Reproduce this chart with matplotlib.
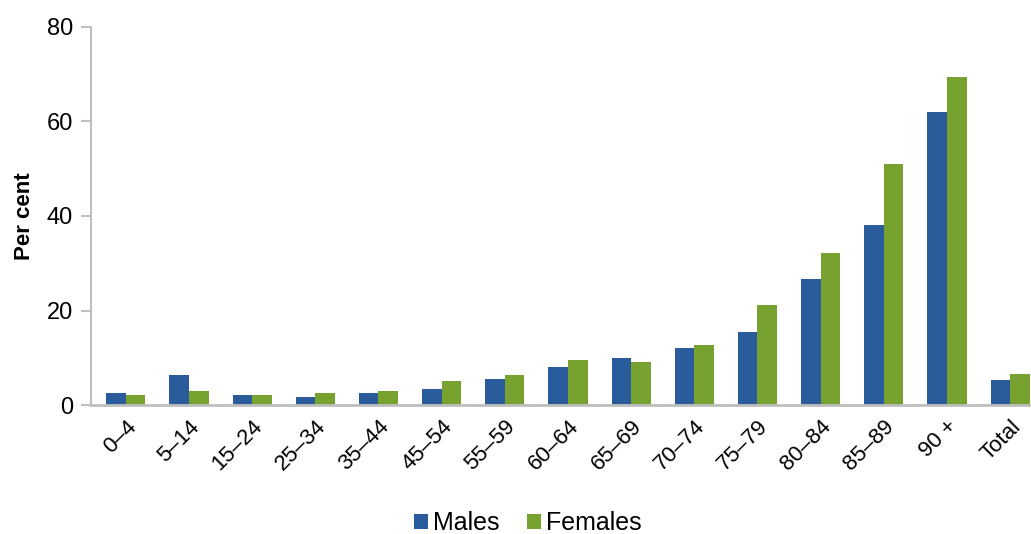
import numpy as np
import matplotlib
matplotlib.use("Agg")
import matplotlib.pyplot as plt

plt.rcParams['font.family'] = ['Liberation Sans', 'DejaVu Sans']

# data
age_groups = ["0–4", "5–14", "15–24", "25–34", "35–44", "45–54", "55–59", "60–64",
              "65–69", "70–74", "75–79", "80–84", "85–89", "90 +", "Total"]
males = [2.5, 6.4, 2.1, 1.7, 2.5, 3.4, 5.5, 8.1, 9.9, 12.0, 15.4, 26.7, 38.2, 62.1, 5.2]
females = [2.1, 3.0, 2.1, 2.5, 3.0, 5.1, 6.4, 9.5, 9.0, 12.8, 21.2, 32.2, 51.0, 69.4, 6.5]

blue = "#2A5C9B"
green = "#78A22F"
grey = "#BFBFBF"

fig = plt.figure(figsize=(10.31, 5.34), dpi=100)
ax = fig.add_axes([91 / 1031, 1 - 405 / 534, (1031 - 91) / 1031, (405 - 27) / 534])

x = np.arange(len(age_groups))
w = 0.31
ax.bar(x - w / 2, males, width=w, color=blue, label="Males")
ax.bar(x + w / 2, females, width=w, color=green, label="Females")

ax.set_xlim(-0.55, 14.33)
ax.set_ylim(0, 80)
ax.set_yticks([0, 20, 40, 60, 80])
ax.set_xticks(x)
ax.set_xticklabels(age_groups, rotation=45, ha="right", rotation_mode="anchor")

ax.tick_params(axis="y", labelsize=17, length=7, width=1.5, color=grey, pad=6)
ax.tick_params(axis="x", labelsize=16, length=0, pad=8)

for s in ["top", "right"]:
    ax.spines[s].set_visible(False)
ax.spines["left"].set_color(grey)
ax.spines["left"].set_linewidth(1.5)
ax.spines["bottom"].set_color(grey)
ax.spines["bottom"].set_linewidth(2)

ax.set_ylabel("Per cent", fontsize=16, fontweight="bold", labelpad=8)

fig.legend(loc="center", bbox_to_anchor=(528 / 1031, 11 / 534), ncol=2, frameon=False,
           fontsize=18, handlelength=0.55, handleheight=0.55, handletextpad=0.2,
           columnspacing=1.1)

fig.savefig("out.png", dpi=100)
